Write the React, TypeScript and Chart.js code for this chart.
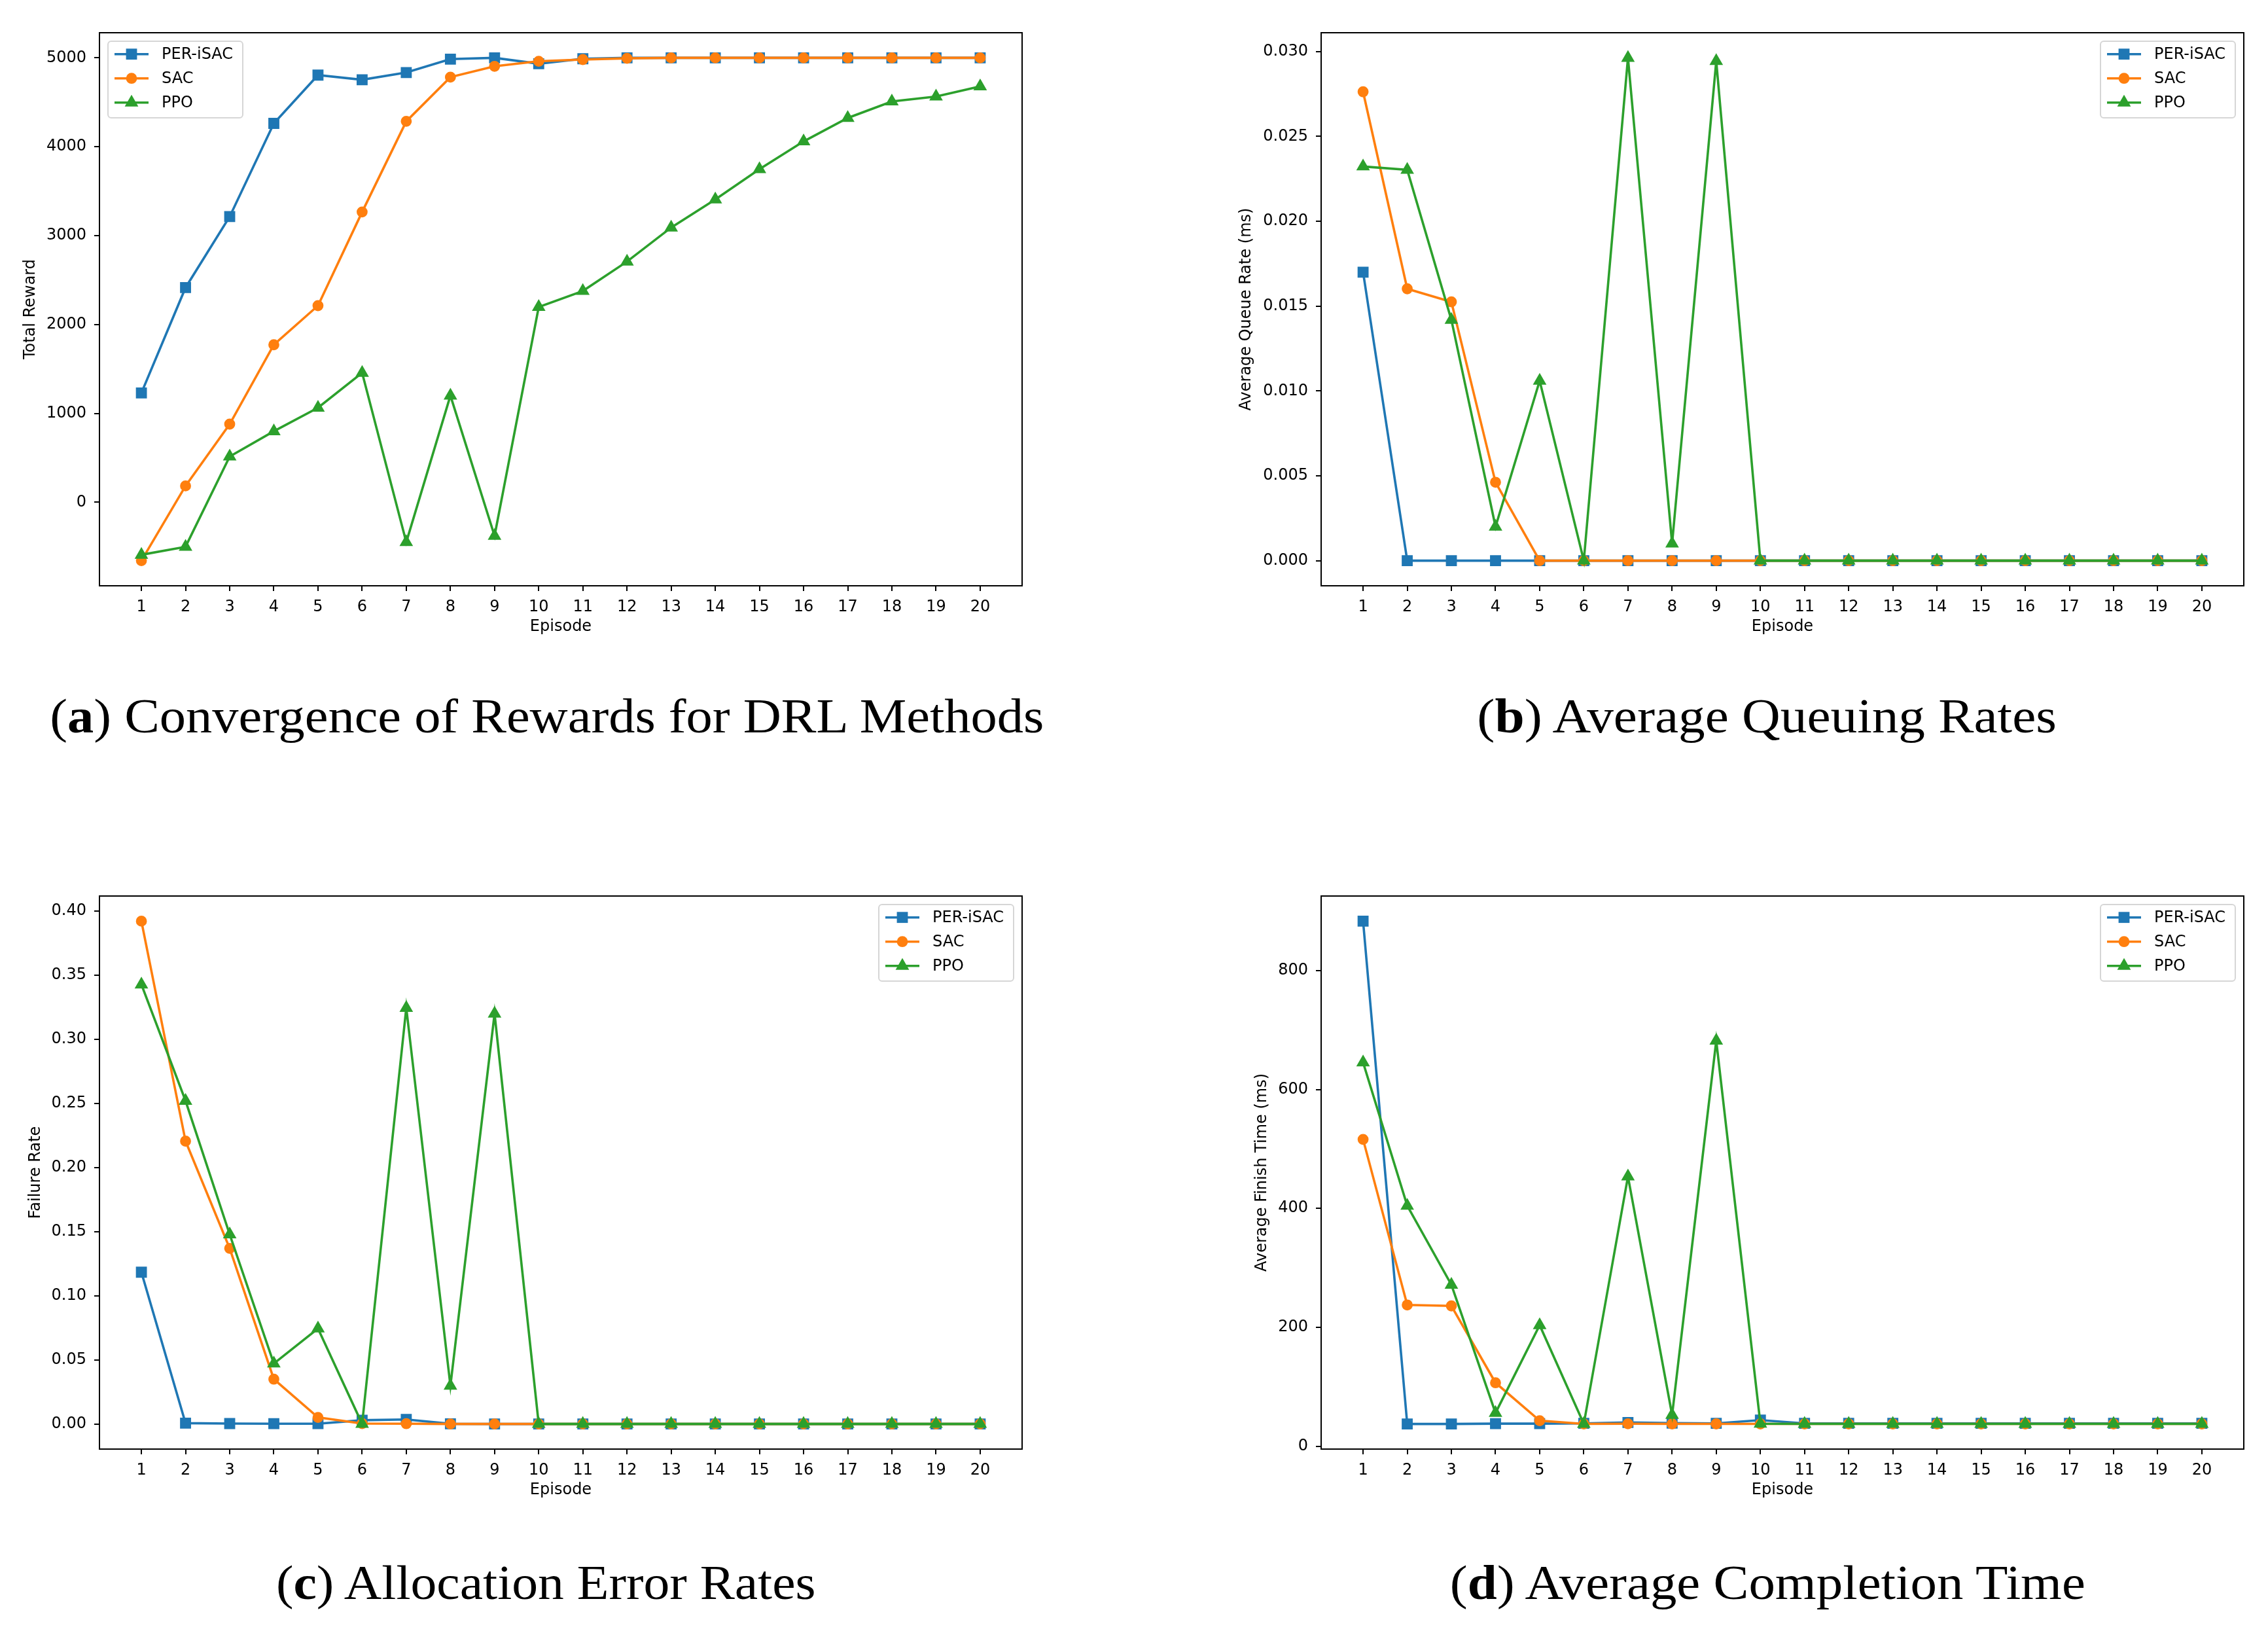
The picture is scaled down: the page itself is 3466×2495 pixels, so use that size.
import React, { useEffect, useRef } from "react";
import { Chart, registerables } from "chart.js";

Chart.register(...registerables);

// ---------- data ----------
const episodes = [1, 2, 3, 4, 5, 6, 7, 8, 9, 10, 11, 12, 13, 14, 15, 16, 17, 18, 19, 20];
const seriesNames = ["PER-iSAC", "SAC", "PPO"];

const rewardPER = [1230, 2415, 3214, 4263, 4806, 4754, 4835, 4986, 5000, 4934, 4990, 5000, 5000, 5000, 5000, 5000, 5000, 5000, 5000, 5000];
const rewardSAC = [-657, 184, 879, 1772, 2212, 3266, 4286, 4783, 4905, 4962, 4981, 4995, 5000, 5000, 5000, 5000, 5000, 5000, 5000, 5000];
const rewardPPO = [-591, -501, 515, 799, 1063, 1456, -449, 1200, -378, 2197, 2377, 2708, 3091, 3407, 3748, 4060, 4324, 4509, 4565, 4679];

const queuePER = [0.017, 0, 0, 0, 0, 0, 0, 0, 0, 0, 0, 0, 0, 0, 0, 0, 0, 0, 0, 0];
const queueSAC = [0.02763, 0.01602, 0.01525, 0.00462, 0, 0, 0, 0, 0, 0, 0, 0, 0, 0, 0, 0, 0, 0, 0, 0];
const queuePPO = [0.02323, 0.02303, 0.01419, 0.002, 0.0106, 0, 0.02963, 0.00101, 0.02944, 0, 0, 0, 0, 0, 0, 0, 0, 0, 0, 0];

const failPER = [0.1183, 0.0006, 0.0003, 0.0002, 0.0002, 0.0029, 0.0035, 0.0001, 0, 0, 0, 0, 0, 0, 0, 0, 0, 0, 0, 0];
const failSAC = [0.392, 0.2205, 0.1369, 0.0349, 0.0051, 0.0003, 0.0002, 0, 0, 0, 0, 0, 0, 0, 0, 0, 0, 0, 0, 0];
const failPPO = [0.3426, 0.2519, 0.1478, 0.0471, 0.0744, 0, 0.3244, 0.0298, 0.3199, 0, 0, 0, 0, 0, 0, 0, 0, 0, 0, 0];

const finishPER = [883, 37.5, 37.5, 38, 38, 38.5, 40, 39, 38.5, 44, 38.5, 38.5, 38.5, 38.5, 38.5, 38.5, 38.5, 38.5, 38.5, 38.5];
const finishSAC = [516, 237.6, 236, 106.7, 43, 37.6, 37.8, 37.6, 37.6, 37.6, 37.6, 37.6, 37.6, 37.6, 37.6, 37.6, 37.6, 37.6, 37.6, 37.6];
const finishPPO = [645.5, 404.5, 271.5, 56, 203.6, 37.6, 453.7, 52.6, 682, 37.8, 37.6, 37.6, 37.6, 37.6, 37.6, 37.6, 37.6, 37.6, 37.6, 37.6];

const rewardTicks = [0, 1000, 2000, 3000, 4000, 5000];
const rewardTickLabels = ["0", "1000", "2000", "3000", "4000", "5000"];
const queueTicks = [0, 0.005, 0.01, 0.015, 0.02, 0.025, 0.03];
const queueTickLabels = ["0.000", "0.005", "0.010", "0.015", "0.020", "0.025", "0.030"];
const failTicks = [0, 0.05, 0.1, 0.15, 0.2, 0.25, 0.3, 0.35, 0.4];
const failTickLabels = ["0.00", "0.05", "0.10", "0.15", "0.20", "0.25", "0.30", "0.35", "0.40"];
const finishTicks = [0, 200, 400, 600, 800];
const finishTickLabels = ["0", "200", "400", "600", "800"];

// ---------- styles ----------
const COLORS = ["#1f77b4", "#ff7f0e", "#2ca02c"];
const MARKERS = ["rect", "circle", "triangle"];
const MARKER_R = [10.2, 7.2, 9.6];
const SANS = '"DejaVu Sans"';
const SERIF = '"Liberation Serif"';
const FS = 24;

type Spec = {
  left: number;
  top: number;
  yWidth: number;
  padRight: number;
  yTitlePad: number;
  yTitle: string;
  series: number[][];
  ticks: number[];
  tickLabels: string[];
  legendSide: "left" | "right";
};

function makeOverlay(side: "left" | "right") {
  return {
    id: "frameLegend" + side,
    afterDatasetsDraw(chart: any) {
      const { ctx, chartArea: ca } = chart;
      ctx.save();
      ctx.strokeStyle = "#000";
      ctx.lineWidth = 2;
      ctx.strokeRect(ca.left, ca.top, ca.right - ca.left, ca.bottom - ca.top);
      ctx.restore();
    },
    afterDraw(chart: any) {
      const { ctx, chartArea: ca } = chart;
      const boxW = 206;
      const boxH = 117;
      const bx = side === "left" ? ca.left + 13 : ca.right - 13 - boxW;
      const by = ca.top + 13;
      ctx.save();
      ctx.beginPath();
      const r = 5;
      ctx.moveTo(bx + r, by);
      ctx.lineTo(bx + boxW - r, by);
      ctx.arcTo(bx + boxW, by, bx + boxW, by + r, r);
      ctx.lineTo(bx + boxW, by + boxH - r);
      ctx.arcTo(bx + boxW, by + boxH, bx + boxW - r, by + boxH, r);
      ctx.lineTo(bx + r, by + boxH);
      ctx.arcTo(bx, by + boxH, bx, by + boxH - r, r);
      ctx.lineTo(bx, by + r);
      ctx.arcTo(bx, by, bx + r, by, r);
      ctx.closePath();
      ctx.fillStyle = "rgba(255,255,255,0.8)";
      ctx.fill();
      ctx.strokeStyle = "#d6d6d6";
      ctx.lineWidth = 2;
      ctx.stroke();
      for (let i = 0; i < seriesNames.length; i++) {
        const ry = by + 19.7 + i * 37;
        const c = COLORS[i];
        ctx.strokeStyle = c;
        ctx.fillStyle = c;
        ctx.lineWidth = 3.6;
        ctx.beginPath();
        ctx.moveTo(bx + 10, ry);
        ctx.lineTo(bx + 62, ry);
        ctx.stroke();
        const mx = bx + 36;
        if (MARKERS[i] === "rect") {
          ctx.fillRect(mx - 8.4, ry - 8.4, 16.8, 16.8);
        } else if (MARKERS[i] === "circle") {
          ctx.beginPath();
          ctx.arc(mx, ry, 8.4, 0, Math.PI * 2);
          ctx.fill();
        } else {
          const rr = MARKER_R[i];
          ctx.beginPath();
          for (let k = 0; k < 3; k++) {
            const a = -Math.PI / 2 + (k * 2 * Math.PI) / 3;
            const px = mx + Math.cos(a) * rr;
            const py = ry + Math.sin(a) * rr;
            if (k === 0) ctx.moveTo(px, py);
            else ctx.lineTo(px, py);
          }
          ctx.closePath();
          ctx.fill();
          ctx.lineWidth = 2.4;
          ctx.stroke();
        }
        ctx.fillStyle = "#000";
        ctx.font = `${FS}px ${SANS}`;
        ctx.textBaseline = "middle";
        ctx.textAlign = "left";
        ctx.fillText(seriesNames[i], bx + 82, ry + 1);
      }
      ctx.restore();
    },
  };
}

const CW = 1733;
const CH = 1000;

function Panel({ spec }: { spec: Spec }) {
  const ref = useRef<HTMLCanvasElement>(null);
  useEffect(() => {
    const canvas = ref.current!;
    const all = spec.series.flat();
    const dMin = Math.min(...all);
    const dMax = Math.max(...all);
    const m = (dMax - dMin) * 0.05;
    const datasets = spec.series.map((vals, i) => ({
      label: seriesNames[i],
      data: vals.map((v, j) => ({ x: episodes[j], y: v })),
      borderColor: COLORS[i],
      backgroundColor: COLORS[i],
      pointBackgroundColor: COLORS[i],
      pointBorderColor: COLORS[i],
      pointBorderWidth: 2.4,
      pointStyle: MARKERS[i] as any,
      pointRadius: MARKER_R[i],
      pointHoverRadius: MARKER_R[i],
      borderWidth: 3.6,
      tension: 0,
      order: 3 - i,
    }));
    const font = { family: SANS, size: FS };
    const chart = new Chart(canvas, {
      type: "line",
      data: { datasets } as any,
      options: {
        animation: false,
        responsive: false,
        devicePixelRatio: 1,
        layout: { padding: { left: 0, top: 50, right: spec.padRight, bottom: 0 } },
        plugins: { legend: { display: false }, tooltip: { enabled: false } },
        scales: {
          x: {
            type: "linear",
            min: 0.05,
            max: 20.95,
            afterFit: (s: any) => {
              s.height = 105;
            },
            afterBuildTicks: (s: any) => {
              s.ticks = episodes.map((v) => ({ value: v }));
            },
            ticks: {
              autoSkip: false,
              maxRotation: 0,
              padding: 10,
              color: "#000",
              font,
              callback: (v: any) => String(v),
            },
            grid: { drawOnChartArea: false, drawTicks: true, tickLength: 8, color: "#000", lineWidth: 2 },
            border: { display: false },
            title: { display: true, text: "Episode", color: "#000", font, padding: { top: 0, bottom: 27.6 } },
          },
          y: {
            type: "linear",
            min: dMin - m,
            max: dMax + m,
            afterFit: (s: any) => {
              s.width = spec.yWidth;
            },
            afterBuildTicks: (s: any) => {
              s.ticks = spec.ticks.map((v) => ({ value: v }));
            },
            ticks: {
              autoSkip: false,
              padding: 12,
              color: "#000",
              font,
              callback: (_v: any, idx: number) => spec.tickLabels[idx],
            },
            grid: { drawOnChartArea: false, drawTicks: true, tickLength: 8, color: "#000", lineWidth: 2 },
            border: { display: false },
            title: { display: true, text: spec.yTitle, color: "#000", font, padding: { top: spec.yTitlePad, bottom: 0 } },
          },
        },
      } as any,
      plugins: [makeOverlay(spec.legendSide)],
    });
    return () => chart.destroy();
  }, []);
  return (
    <canvas
      ref={ref}
      width={CW}
      height={CH}
      style={{ position: "absolute", left: spec.left, top: spec.top, width: CW, height: CH }}
    />
  );
}

function Caption({ cx, baseline, letter, text, width }: { cx: number; baseline: number; letter: string; text: string; width: number }) {
  const fontSize = 74;
  let k = 1;
  try {
    const ctx = document.createElement("canvas").getContext("2d")!;
    ctx.font = `${fontSize}px ${SERIF}`;
    const w1 = ctx.measureText("(").width + ctx.measureText(") " + text).width;
    ctx.font = `bold ${fontSize}px ${SERIF}`;
    const w2 = ctx.measureText(letter).width;
    k = width / (w1 + w2);
  } catch (e) {
    k = 1;
  }
  return (
    <div
      style={{
        position: "absolute",
        left: cx - 2000,
        width: 4000,
        top: baseline - 62,
        textAlign: "center",
        fontFamily: SERIF,
        fontSize,
        lineHeight: `${fontSize}px`,
        whiteSpace: "nowrap",
        color: "#000",
      }}
    >
      <span style={{ display: "inline-block", transform: `scaleX(${k})` }}>
        (<b>{letter}</b>) {text}
      </span>
    </div>
  );
}

const specs: Spec[] = [
  { left: 0, top: 0, yWidth: 152, padRight: 171, yTitlePad: 32.6, yTitle: "Total Reward", series: [rewardPER, rewardSAC, rewardPPO], ticks: rewardTicks, tickLabels: rewardTickLabels, legendSide: "left" },
  { left: 1733, top: 0, yWidth: 286, padRight: 37, yTitlePad: 157.6, yTitle: "Average Queue Rate (ms)", series: [queuePER, queueSAC, queuePPO], ticks: queueTicks, tickLabels: queueTickLabels, legendSide: "right" },
  { left: 0, top: 1319, yWidth: 152, padRight: 171, yTitlePad: 40.6, yTitle: "Failure Rate", series: [failPER, failSAC, failPPO], ticks: failTicks, tickLabels: failTickLabels, legendSide: "right" },
  { left: 1733, top: 1319, yWidth: 286, padRight: 37, yTitlePad: 181, yTitle: "Average Finish Time (ms)", series: [finishPER, finishSAC, finishPPO], ticks: finishTicks, tickLabels: finishTickLabels, legendSide: "right" },
];

export default function App() {
  useEffect(() => {
    document.body.style.margin = "0";
  }, []);
  return (
    <div style={{ position: "absolute", left: 0, top: 0, width: 3466, height: 2495, background: "#fff", overflow: "hidden" }}>
      {specs.map((s, i) => (
        <Panel key={i} spec={s} />
      ))}
      <Caption cx={836} baseline={1119} letter="a" text="Convergence of Rewards for DRL Methods" width={1522} />
      <Caption cx={2700} baseline={1119} letter="b" text="Average Queuing Rates" width={890} />
      <Caption cx={834} baseline={2443} letter="c" text="Allocation Error Rates" width={829} />
      <Caption cx={2701} baseline={2443} letter="d" text="Average Completion Time" width={977} />
    </div>
  );
}
